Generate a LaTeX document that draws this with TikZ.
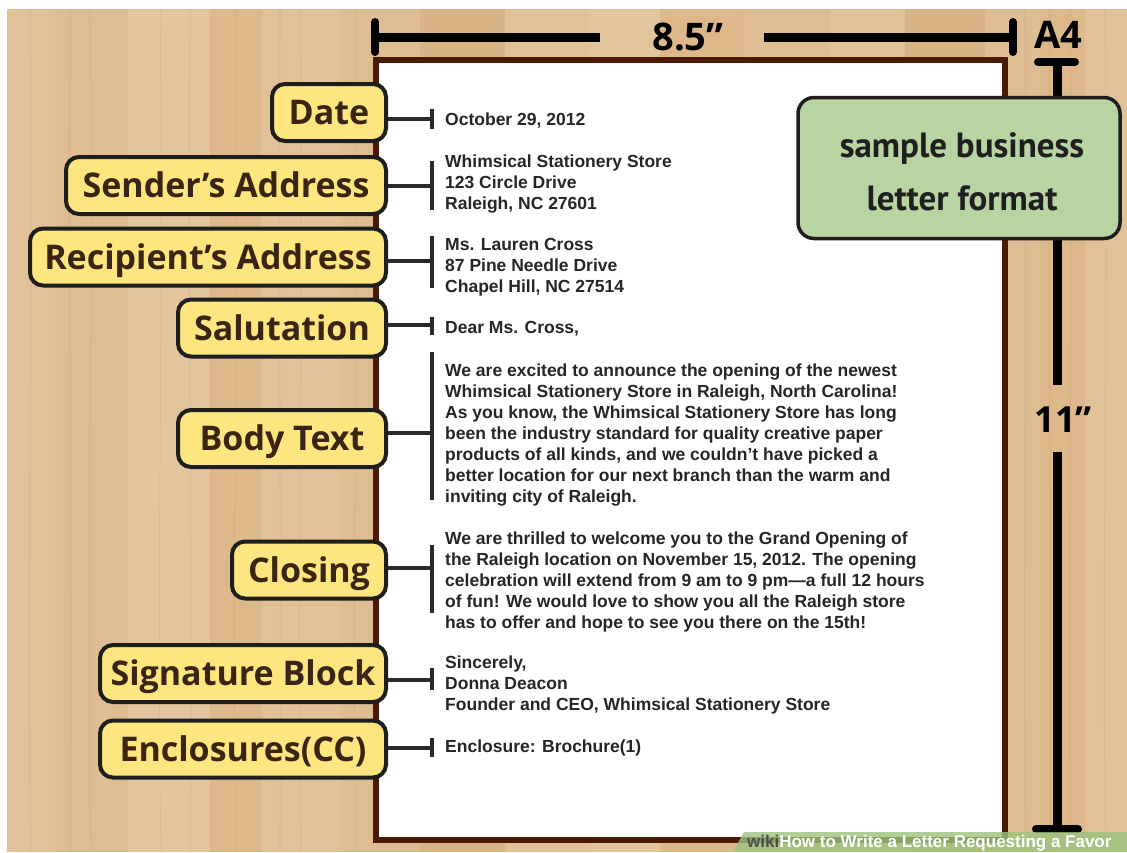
\documentclass[tikz,border=0pt]{standalone}
\usepackage{fontspec}
\setmainfont{Liberation Sans}
\newfontfamily\labelfont{Open Sans}
\newfontfamily\notefont{PT Sans}
\definecolor{woodA}{HTML}{E1C198}
\definecolor{woodB}{HTML}{DCB88B}
\definecolor{woodC}{HTML}{DFBD92}
\definecolor{woodD}{HTML}{E3C59D}
\definecolor{woodE}{HTML}{D9B486}
\definecolor{woodgrain}{HTML}{A87A48}
\definecolor{lblfill}{HTML}{FDE580}
\definecolor{lblborder}{HTML}{1E1E1E}
\definecolor{lbltext}{HTML}{3A2414}
\definecolor{notefill}{HTML}{B7D4A2}
\definecolor{paperborder}{HTML}{4B1A07}
\definecolor{lettertext}{HTML}{262626}
\definecolor{connc}{HTML}{2A2A2A}
\definecolor{wmgreen}{HTML}{9CC47E}
\definecolor{wmgray}{HTML}{4D4D4D}
\begin{document}
\begin{tikzpicture}[x=1pt,y=-1pt,
  lbl/.style={draw=lblborder, line width=4pt, fill=lblfill, rounded corners=13pt,
    text=lbltext, font=\labelfont\bfseries\fontsize{34}{40}\selectfont,
    text height=24pt, text depth=0pt, minimum height=57pt, inner sep=0pt, anchor=east},
  lettr/.style={font=\bfseries\fontsize{17.5}{21}\selectfont, text=lettertext,
    align=left, anchor=north west, inner sep=0pt},
  conn/.style={draw=connc, line width=3.5pt},
  rulerline/.style={draw=black, line width=9pt},
  rulercap/.style={draw=black, line width=8pt, line cap=round},
  dimtext/.style={font=\labelfont\bfseries\fontsize{38}{40}\selectfont, text=black, inner sep=0pt}
]
\useasboundingbox (0,0) rectangle (1127,852);
\fill[white] (0,0) rectangle (1127,852);
% wood planks
\foreach \xa/\xb/\c in {7/55/woodA, 55/128/woodC, 128/210/woodD, 210/262/woodB, 262/340/woodA,
  340/420/woodC, 420/505/woodE, 505/590/woodA, 590/660/woodD, 660/745/woodB, 745/830/woodC,
  830/905/woodA, 905/985/woodE, 985/1040/woodC, 1040/1085/woodB, 1085/1127/woodA}
  \fill[\c] (\xa,9) rectangle (\xb,852);
\foreach \x in {30,90,160,235,300,355,1025,1070,1105}
  \draw[woodgrain, opacity=0.12, line width=1pt] (\x,9) .. controls (\x+4,300) and (\x-4,600) .. (\x+1,852);
\foreach \x in {70,190,280,1050}
  \draw[woodgrain, opacity=0.08, line width=2pt] (\x,9) .. controls (\x-3,350) and (\x+3,550) .. (\x,852);

% paper
\draw[line width=6pt, draw=paperborder, fill=white] (376,60) rectangle (1005,840);

% top ruler
\node[dimtext] (w85) at (688,37) {8.5”};
\coordinate (hL) at (375,37);
\coordinate (hL1) at (600,37);
\coordinate (hR1) at (764,37);
\coordinate (hR) at (1013,37);
\draw[rulerline] (hL) -- (hL1);
\draw[rulerline] (hR1) -- (hR);
\coordinate (cLt) at (375,22); \coordinate (cLb) at (375,52);
\coordinate (cRt) at (1013,22); \coordinate (cRb) at (1013,52);
\draw[rulercap] (cLt) -- (cLb);
\draw[rulercap] (cRt) -- (cRb);
\node[dimtext] (a4) at (1058,35) {A4};

% right ruler
\coordinate (vT) at (1057,62);
\coordinate (vT1) at (1057,385);
\coordinate (vB1) at (1057,452);
\coordinate (vB) at (1057,829);
\coordinate (tL) at (1038,62); \coordinate (tR) at (1075,62);
\coordinate (bL) at (1036,829); \coordinate (bR) at (1078,829);
\draw[rulerline] (vT) -- (vT1);
\draw[rulerline] (vB1) -- (vB);
\draw[rulercap] (tL) -- (tR);
\draw[rulercap] (bL) -- (bR);
\node[dimtext, font=\labelfont\bfseries\fontsize{36}{40}\selectfont] (h11) at (1063,420) {11”};

% note box
\node[draw=lblborder, line width=3.5pt, fill=notefill, rounded corners=16pt,
  minimum width=322pt, minimum height=141pt, inner sep=0pt] (note) at (959,168) {};
\node[inner sep=0pt, align=center, font=\notefont\bfseries\fontsize{35}{53}\selectfont,
  text=black!88] (notetext) at (962,172) {sample business\\letter format};

% labels
\node[lbl, minimum width=114pt] (date) at (388,112.5) {Date};
\node[lbl, minimum width=320pt] (sender) at (388,185.5) {Sender’s Address};
\node[lbl, minimum width=356pt] (recip) at (388,257) {Recipient’s Address};
\node[lbl, minimum width=208pt] (salut) at (388,328) {Salutation};
\node[lbl, minimum width=208pt] (body) at (388,438.5) {Body Text};
\node[lbl, minimum width=154pt] (closing) at (388,570) {Closing};
\node[lbl, minimum width=286pt] (sig) at (388,673.5) {Signature Block};
\node[lbl, minimum width=286pt] (encl) at (388,749) {Enclosures(CC)};

% letter text
\node[lettr] (tdate) at (445,112.5) {October 29, 2012};
\node[lettr] (tsender) at (445,154.5) {Whimsical Stationery Store\\123 Circle Drive\\Raleigh, NC 27601};
\node[lettr] (trecip) at (445,238.5) {Ms. Lauren Cross\\87 Pine Needle Drive\\Chapel Hill, NC 27514};
\node[lettr] (tsalut) at (445,321.5) {Dear Ms. Cross,};
\node[lettr] (tbody) at (445,363.5) {We are excited to announce the opening of the newest\\
Whimsical Stationery Store in Raleigh, North Carolina!\\
As you know, the Whimsical Stationery Store has long\\
been the industry standard for quality creative paper\\
products of all kinds, and we couldn’t have picked a\\
better location for our next branch than the warm and\\
inviting city of Raleigh.};
\node[lettr] (tclosing) at (445,531.5) {We are thrilled to welcome you to the Grand Opening of\\
the Raleigh location on November 15, 2012. The opening\\
celebration will extend from 9 am to 9 pm—a full 12 hours\\
of fun! We would love to show you all the Raleigh store\\
has to offer and hope to see you there on the 15th!};
\node[lettr] (tsig) at (445,655.5) {Sincerely,\\Donna Deacon\\Founder and CEO, Whimsical Stationery Store};
\node[lettr] (tencl) at (445,739.5) {Enclosure: Brochure(1)};

% connectors: bar top, bar bottom, junction
\foreach \n/\yt/\yb/\ym in {date/109/129/119, sender/161/210/186, recip/236/288/261,
  salut/317/335/325, body/352/500/433, closing/545/613/568, sig/668/690/680, encl/738/757/748}{
  \coordinate (\n T) at (432,\yt);
  \coordinate (\n B) at (432,\yb);
  \coordinate (\n M) at (432,\ym);
  \draw[conn] (\n T) -- (\n B);
  \draw[conn] (\n M -| \n.east) -- (\n M);
}

% watermark
\begin{scope}
\clip (0,0) rectangle (1127,852);
\fill[wmgreen, opacity=0.8] (733,852) -- (744,832) -- (1127,832) -- (1127,852) -- cycle;
\node[anchor=west, inner sep=0pt, font=\bfseries\fontsize{17}{19}\selectfont, text=white] (wm) at (747,843)
  {\textcolor{wmgray}{wiki}How to Write a Letter Requesting a Favor};
\end{scope}
\end{tikzpicture}
\end{document}
